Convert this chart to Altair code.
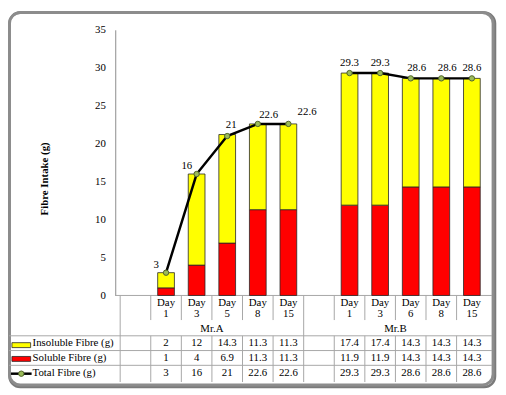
import altair as alt
import pandas as pd

# ---------------- data ----------------
groups = ["Mr.A", "Mr.B"]
days_a = ["Day 1", "Day 3", "Day 5", "Day 8", "Day 15"]
days_b = ["Day 1", "Day 3", "Day 6", "Day 8", "Day 15"]
insoluble_a = [2, 12, 14.3, 11.3, 11.3]
insoluble_b = [17.4, 17.4, 14.3, 14.3, 14.3]
soluble_a = [1, 4, 6.9, 11.3, 11.3]
soluble_b = [11.9, 11.9, 14.3, 14.3, 14.3]
total_a = [3, 16, 21, 22.6, 22.6]
total_b = [29.3, 29.3, 28.6, 28.6, 28.6]
series_names = ["Insoluble Fibre (g)", "Soluble Fibre (g)", "Total Fibre (g)"]
y_ticks = [0, 5, 10, 15, 20, 25, 30, 35]
y_title = "Fibre Intake (g)"

# ---------------- build tables ----------------
rows = []
for g, (days, ins, sol, tot) in enumerate([(days_a, insoluble_a, soluble_a, total_a),
                                            (days_b, insoluble_b, soluble_b, total_b)]):
    for j, d in enumerate(days):
        slot = g * 6 + 1 + j
        rows.append({
            "group": groups[g], "day": d, "key": f"{groups[g]}|{d}",
            "c": slot + 0.5,
            "insoluble": ins[j], "soluble": sol[j], "total": tot[j],
            "ins_t": f"{ins[j]:g}", "sol_t": f"{sol[j]:g}", "tot_t": f"{tot[j]:g}",
        })
df = pd.DataFrame(rows)
group_df = pd.DataFrame({"group": groups, "gc": [g * 6 + 3 for g in range(len(groups))]})
n_slots = 12
inner_bounds = [b for b in range(1, n_slots) if b != 6]
inner_df = pd.DataFrame({"b": inner_bounds})
outer_df = pd.DataFrame({"b": [0, 6]})
one = pd.DataFrame({"k": [0]})

FONT = "Liberation Serif, Times New Roman, serif"
W, H = 383, 270
GRID = "#A6A6A6"

xs = alt.Scale(domain=[0, n_slots], nice=False, zero=False)
ys = alt.Scale(domain=[0, 35], nice=False)
Y_AXIS = alt.Axis(values=y_ticks, title=y_title, tickSize=0, grid=False,
                  domainColor="#8C8C8C", domainWidth=1,
                  labelFont=FONT, labelFontSize=11, labelColor="black", labelPadding=10,
                  titleFont=FONT, titleFontSize=11, titleFontWeight="bold",
                  titleColor="black", titleAngle=270, titleX=-72, titleY=151,
                  titleAlign="center", titleBaseline="middle")


def X(f):
    return alt.X(f, scale=xs, axis=None)


def Yn(f):
    return alt.Y(f, scale=ys, axis=Y_AXIS)


# ---------------- frame ----------------
shadow = alt.Chart(one).mark_rect(fill="transparent", stroke="#5A5A5A", strokeWidth=2.5,
                                  cornerRadius=11, opacity=0.8).encode(
    x=alt.value(-107.5), x2=alt.value(386), y=alt.value(-17.5), y2=alt.value(363))
frame = alt.Chart(one).mark_rect(fill="transparent", stroke="#8C8C8C", strokeWidth=3,
                                 cornerRadius=11).encode(
    x=alt.value(-107.5), x2=alt.value(384), y=alt.value(-17.5), y2=alt.value(361))


# ---------------- table lines ----------------
def hline(y, x0, x1):
    return alt.Chart(one).mark_rule(color=GRID, strokeWidth=1).encode(
        x=alt.value(x0), x2=alt.value(x1), y=alt.value(y))


hlines = [hline(270, 0, W), hline(311, -108, W), hline(326, -108, W), hline(341, -108, W)]
v_outer = alt.Chart(outer_df).mark_rule(color=GRID, strokeWidth=1).encode(
    x=X("b:Q"), y=alt.value(270), y2=alt.value(358))
v_day = alt.Chart(inner_df).mark_rule(color=GRID, strokeWidth=1).encode(
    x=X("b:Q"), y=alt.value(270), y2=alt.value(295))
v_data = alt.Chart(inner_df).mark_rule(color=GRID, strokeWidth=1).encode(
    x=X("b:Q"), y=alt.value(311), y2=alt.value(358))

# ---------------- bars ----------------
bar_sol = alt.Chart(df).mark_bar(size=17, color="#FF0000", stroke="#262626", strokeWidth=0.8).encode(
    x=X("c:Q"), y=Yn("soluble:Q"), y2=alt.datum(0))
bar_ins = alt.Chart(df).transform_calculate(top="datum.soluble + datum.insoluble").mark_bar(
    size=17, color="#FFFF00", stroke="#262626", strokeWidth=0.8).encode(
    x=X("c:Q"), y=Yn("top:Q"), y2="soluble:Q")

# ---------------- total line ----------------
line = alt.Chart(df).mark_line(color="black", strokeWidth=2.5).encode(
    x=X("c:Q"), y=Yn("total:Q"), detail="group:N")
pts = alt.Chart(df).mark_point(shape="circle", filled=True, fill="#9BBB59", stroke="#4F6228",
                               strokeWidth=1, opacity=1, size=30).encode(
    x=X("c:Q"), y=Yn("total:Q"))

label_specs = [
    (["Mr.A|Day 1", "Mr.A|Day 3"], -10, -8),
    (["Mr.A|Day 5"], 4, -11),
    (["Mr.A|Day 8"], 11, -9),
    (["Mr.A|Day 15"], 19, -12),
    (["Mr.B|Day 1", "Mr.B|Day 3", "Mr.B|Day 15"], 0, -10),
    (["Mr.B|Day 6", "Mr.B|Day 8"], 6, -10),
]
labels = [
    alt.Chart(df).transform_filter(alt.FieldOneOfPredicate(field="key", oneOf=keys)).mark_text(
        dx=dx, dy=dy, font=FONT, fontSize=11, color="black").encode(
        x=X("c:Q"), y=Yn("total:Q"), text="tot_t:N")
    for keys, dx, dy in label_specs
]

# ---------------- table text ----------------
day_text = alt.Chart(df).mark_text(lineBreak=" ", baseline="top", lineHeight=11, font=FONT,
                                   fontSize=11, color="black").encode(
    x=X("c:Q"), y=alt.value(272), text="day:N")
group_text = alt.Chart(group_df).mark_text(baseline="middle", font=FONT, fontSize=11,
                                           color="black").encode(
    x=X("gc:Q"), y=alt.value(304), text="group:N")
val_texts = [
    alt.Chart(df).mark_text(baseline="middle", font=FONT, fontSize=11, color="black").encode(
        x=X("c:Q"), y=alt.value(yv), text=f"{col}:N")
    for col, yv in [("ins_t", 318.5), ("sol_t", 333.5), ("tot_t", 349)]
]
name_texts = [
    alt.Chart(one).mark_text(align="left", baseline="middle", font=FONT, fontSize=11,
                             color="black").encode(
        x=alt.value(-84), y=alt.value(yv), text=alt.value(nm))
    for nm, yv in zip(series_names, [318.5, 333.5, 349])
]
key_ins = alt.Chart(one).mark_rect(color="#FFFF00", stroke="#262626", strokeWidth=0.8).encode(
    x=alt.value(-105), x2=alt.value(-86), y=alt.value(318), y2=alt.value(323))
key_sol = alt.Chart(one).mark_rect(color="#FF0000", stroke="#262626", strokeWidth=0.8).encode(
    x=alt.value(-105), x2=alt.value(-86), y=alt.value(332), y2=alt.value(337))
key_line = alt.Chart(one).mark_rule(color="black", strokeWidth=2.5).encode(
    x=alt.value(-106), x2=alt.value(-85), y=alt.value(349.5))
key_pt = alt.Chart(one).mark_point(shape="circle", filled=True, fill="#9BBB59", stroke="#4F6228",
                                   strokeWidth=1, opacity=1, size=30).encode(
    x=alt.value(-95.5), y=alt.value(349.5))

chart = alt.layer(
    shadow, frame, *hlines, v_outer, v_day, v_data,
    bar_sol, bar_ins, line, pts, *labels,
    day_text, group_text, *val_texts, *name_texts,
    key_ins, key_sol, key_line, key_pt,
).properties(
    width=W, height=H,
    autosize=alt.AutoSizeParams(type="none"),
    padding={"left": 109, "top": 19, "right": 6, "bottom": 97},
    background="white",
).configure_view(stroke=None)

chart.save("out.html", embed_options={"renderer": "svg", "actions": False})
